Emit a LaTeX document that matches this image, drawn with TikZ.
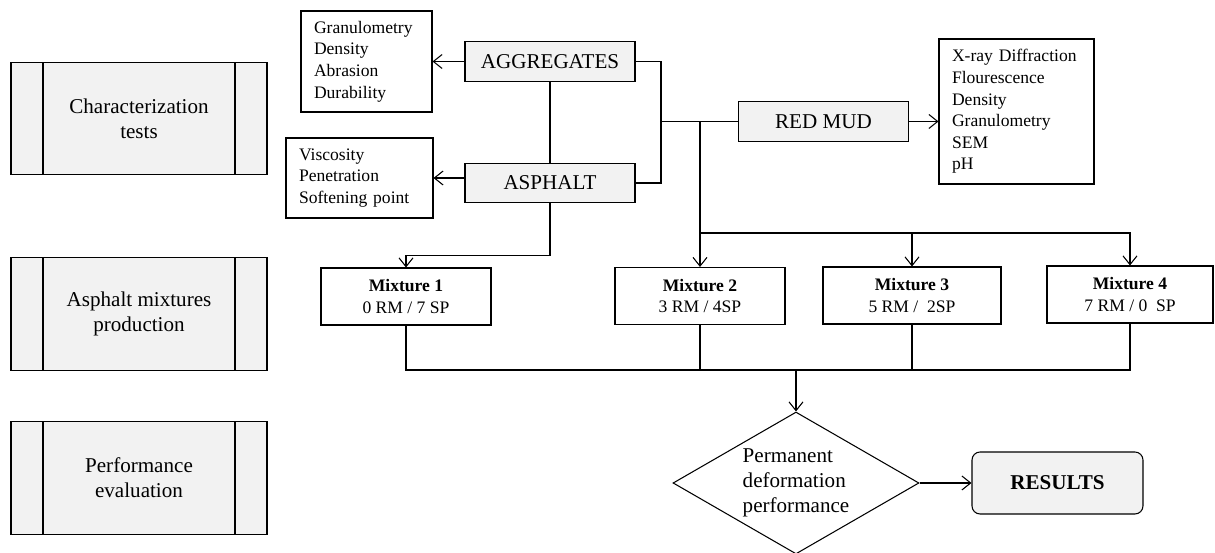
\documentclass[tikz,border=0pt]{standalone}
\usepackage{fontspec}
\setmainfont{Liberation Serif}
\usetikzlibrary{arrows.meta, shapes.geometric}
\definecolor{boxgray}{HTML}{F2F2F2}

\begin{document}
\begin{tikzpicture}[x=0.02cm, y=-0.02cm, >={Straight Barb[length=5pt,width=8pt]}, line width=0.6pt,
	phase/.style={draw, fill=boxgray, minimum width=5.12cm, minimum height=2.25cm, align=center,
		font=\fontsize{12}{14.2}\selectfont,
		path picture={
			\draw ([xshift=0.64cm]path picture bounding box.north west) -- ([xshift=0.64cm]path picture bounding box.south west);
			\draw ([xshift=-0.64cm]path picture bounding box.north east) -- ([xshift=-0.64cm]path picture bounding box.south east);
		}},
	material/.style={draw, fill=boxgray, minimum width=3.4cm, minimum height=0.79cm, font=\fontsize{12}{14.2}\selectfont},
	testlist/.style={draw, align=left, inner xsep=0.26cm, font=\fontsize{10}{12.3}\selectfont},
	mixture/.style={draw, minimum width=3.4cm, minimum height=1.14cm, align=center, font=\fontsize{10}{12.3}\selectfont}
	]
	% --- frame of the page ---
	\useasboundingbox (0,0) rectangle (1215,553);
	
	% --- stages on the left ---
	\node[phase] (chartests) at (139,118.5) {Characterization\\tests};
	\node[phase] (mixprod) at (139,314) {Asphalt mixtures\\production};
	\node[phase] (perfeval) at (139,478) {Performance\\evaluation};
	
	% --- materials and their tests ---
	\node[material] (aggregates) at (550,61.5) {AGGREGATES};
	\node[material] (asphalt) at (550,183) {ASPHALT};
	\node[material] (redmud) at (823.5,121.5) {RED MUD};
	
	\node[testlist, text width=2.1cm, minimum height=2.02cm] (aggtests) at (366.5,61.5) {Granulometry\\Density\\Abrasion\\Durability};
	\node[testlist, text width=2.42cm, minimum height=1.6cm] (asptests) at (359.5,178) {Viscosity\\Penetration\\Softening point};
	\node[testlist, text width=2.58cm, minimum height=2.9cm] (mudtests) at (1016.5,111.5) {X-ray Diffraction\\Flourescence\\Density\\Granulometry\\SEM\\pH};
	
	% --- mixtures ---
	\node[mixture] (mix1) at (406,296.5) {\textbf{Mixture 1}\\0 RM / 7 SP};
	\node[mixture] (mix2) at (700,296) {\textbf{Mixture 2}\\3 RM / 4SP};
	\node[mixture, minimum width=3.56cm] (mix3) at (912,295.5) {\textbf{Mixture 3}\\5 RM / \ 2SP};
	\node[mixture, minimum width=3.32cm] (mix4) at (1130,294.5) {\textbf{Mixture 4}\\7 RM / 0 \ SP};
	
	% --- evaluation ---
	\node[draw, diamond, aspect=1.73, inner sep=0pt, minimum width=4.92cm, minimum height=2.84cm, align=left,
		font=\fontsize{12}{14.2}\selectfont] (perm) at (796,483) {Permanent\\deformation\\performance};
	\node[draw, fill=boxgray, rounded corners=0.16cm, minimum width=3.42cm, minimum height=1.24cm,
		font=\bfseries\fontsize{12}{14.2}\selectfont] (results) at (1057.5,483) {RESULTS};
	
	% --- helper points ---
	\coordinate (jn) at (661,121.5);
	\coordinate (split) at (700,121.5);
	\coordinate (bus) at (700,233);
	\coordinate (col) at (796,370);
	
	% --- connectors ---
	\draw[->] (aggregates.west) -- (aggtests.east);
	\draw[->] (asphalt.west |- asptests.east) -- (asptests.east);
	\draw (aggregates.south) -- (asphalt.north);
	\draw (aggregates.east) -| (jn) |- (asphalt.east);
	\draw (jn) -- (redmud.west);
	\draw[->] (redmud.east) -- (redmud.east -| mudtests.west);
	
	\draw[->] (asphalt.south) -- ++(0,52) -| (mix1.north);
	\draw[->] (split) -- (mix2.north);
	\draw[->] (bus) -| (mix3.north);
	\draw[->] (bus) -| (mix4.north);
	
	\draw (mix1.south) |- (col);
	\draw (mix4.south) |- (col);
	\draw (mix2.south) -- (mix2.south |- col);
	\draw (mix3.south) -- (mix3.south |- col);
	\draw[->] (col) -- (perm.north);
	\draw[->] (perm.east) -- (results.west);
	
\end{tikzpicture}
\end{document}
